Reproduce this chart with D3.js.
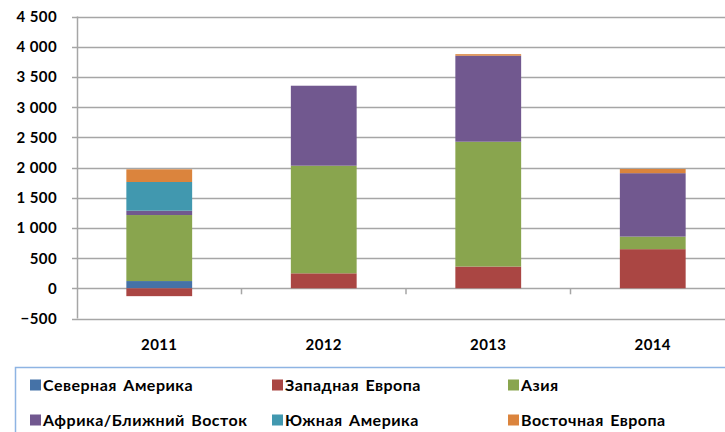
<!DOCTYPE html>
<html>
<head>
<meta charset="utf-8">
<script src="https://cdn.jsdelivr.net/npm/d3@7"></script>
<style>
  body { margin: 0; background: #fff; }
  svg { display: block; }
  .lbl { font-family: Lato, "Liberation Sans", sans-serif; font-weight: bold; font-size: 15px; letter-spacing: 0.4px; fill: #000; }
  .leg { font-family: Lato, "Liberation Sans", sans-serif; font-weight: bold; font-size: 16px; letter-spacing: 0.5px; word-spacing: 2px; fill: #000; }
</style>
</head>
<body>
<script>
// categories and series
var years = ["2011", "2012", "2013", "2014"];
var seriesNames = ["Северная Америка", "Западная Европа", "Азия",
                   "Африка/Ближний Восток", "Южная Америка", "Восточная Европа"];
var northAmerica = [120, 0, 0, 0];
var westEurope   = [-130, 248, 360, 648];
var asia         = [1093, 1782, 2067, 208];
var africaME     = [72, 1324, 1424, 1050];
var southAmerica = [475, 0, 0, 0];
var eastEurope   = [210, 0, 25, 70];
var yTicks = [-500, 0, 500, 1000, 1500, 2000, 2500, 3000, 3500, 4000, 4500];
var colors = ["#4572A7", "#AA4643", "#89A54E", "#71588F", "#4198AF", "#DB843D"];

var W = 725, H = 432;
var svg = d3.select("body").append("svg").attr("width", W).attr("height", H);

// build rows for d3.stack
var allSeries = [northAmerica, westEurope, asia, africaME, southAmerica, eastEurope];
var rows = years.map(function(y, i) {
    var r = { year: y };
    seriesNames.forEach(function(n, k) { r[n] = allSeries[k][i]; });
    return r;
});
var stacked = d3.stack().keys(seriesNames).offset(d3.stackOffsetDiverging)(rows);

var x = d3.scaleBand().domain(years).range([77, 735]).paddingInner(0.6).paddingOuter(0.3);
var y = d3.scaleLinear().domain([-500, 4500]).range([318.5, 16.5]);

//gridlines
svg.append("g").selectAll("line").data(yTicks).join("line")
    .attr("x1", 72).attr("x2", W)
    .attr("y1", function(d) { return Math.round(y(d)) + 0.5; })
    .attr("y2", function(d) { return Math.round(y(d)) + 0.5; })
    .attr("stroke", "#a6a6a6").attr("stroke-width", 1.5);

// vertical axis line
svg.append("line").attr("x1", 77.5).attr("x2", 77.5)
    .attr("y1", y(4500)).attr("y2", y(-500))
    .attr("stroke", "#a6a6a6").attr("stroke-width", 1.5);

// y labels
svg.append("g").selectAll("text").data(yTicks).join("text")
    .classed("lbl", true)
    .attr("x", 57).attr("y", function(d) { return y(d); })
    .attr("dy", "0.36em").attr("text-anchor", "end")
    .text(function(d) { return d3.format(",")(d).replace(",", " "); });

// bars
svg.append("g").selectAll("g").data(stacked).join("g")
    .attr("fill", function(d, i) { return colors[i]; })
    .selectAll("rect").data(function(d) { return d; }).join("rect")
    .attr("x", function(d) { return x(d.data.year); })
    .attr("width", x.bandwidth())
    .attr("y", function(d) { return y(d[1]); })
    .attr("height", function(d) { return y(d[0]) - y(d[1]); });

// category ticks on the zero line
var step = x.step();
svg.append("g").selectAll("line").data(years.slice(1)).join("line")
    .attr("x1", function(d) { return x(d) - x.paddingInner() * step / 2; })
    .attr("x2", function(d) { return x(d) - x.paddingInner() * step / 2; })
    .attr("y1", y(0)).attr("y2", y(0) + 6)
    .attr("stroke", "#a6a6a6").attr("stroke-width", 1.5);

// category labels
svg.append("g").selectAll("text").data(years).join("text")
    .classed("lbl", true)
    .attr("x", function(d) { return x(d) + x.bandwidth() / 2; })
    .attr("y", 345).attr("dy", "0.36em").attr("text-anchor", "middle")
    .text(function(d) { return d; });

// legend
svg.append("rect").attr("x", 15.5).attr("y", 367.5).attr("width", 720).attr("height", 80)
    .attr("fill", "none").attr("stroke", "#8eb4e3").attr("stroke-width", 1.5);
var legX = [30, 272, 508];
var legY = [385, 420];
var leg = svg.append("g").selectAll("g").data(seriesNames).join("g")
    .attr("transform", function(d, i) { return "translate(" + legX[i % 3] + "," + legY[Math.floor(i / 3)] + ")"; });
leg.append("rect").attr("x", 0).attr("y", -5.5).attr("width", 11).attr("height", 11)
    .attr("fill", function(d, i) { return colors[i]; });
leg.append("text").classed("leg", true).attr("x", 13).attr("dy", "0.36em").text(function(d) { return d; });
</script>
</body>
</html>
